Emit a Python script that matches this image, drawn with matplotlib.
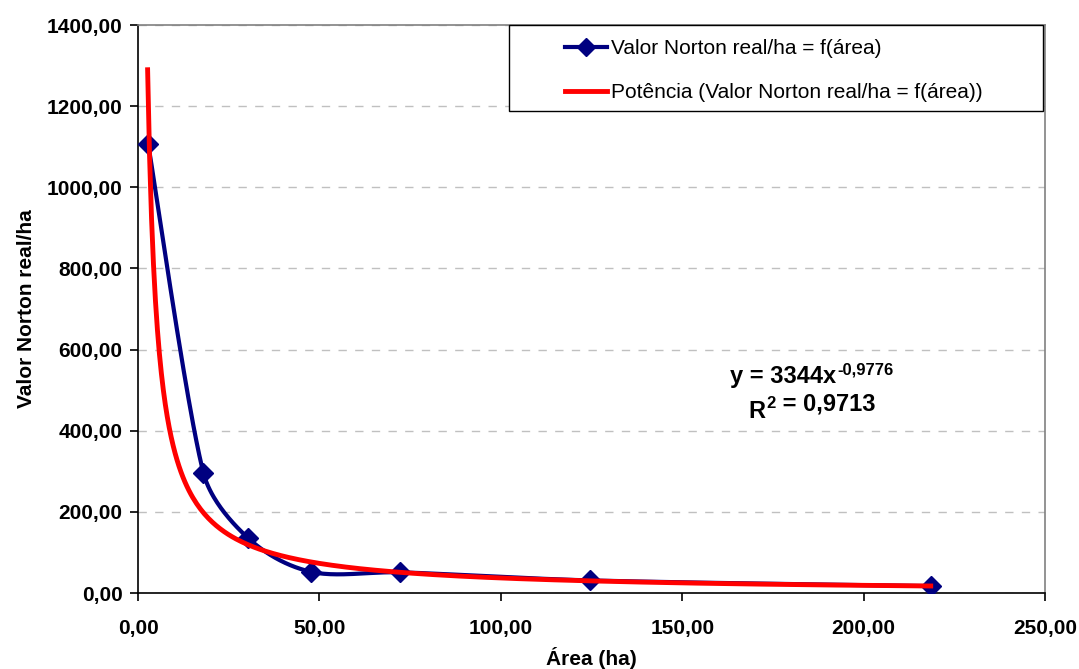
import numpy as np
import matplotlib.pyplot as plt
from matplotlib.lines import Line2D
from matplotlib.patches import Rectangle

plt.rcParams['font.family'] = ['Liberation Sans', 'DejaVu Sans']

# data
area = [2.8, 18.0, 30.4, 47.8, 72.3, 124.6, 218.5]
valor = [1107, 297, 135, 52, 51, 31, 17]

# trendline coefficients as printed on the chart
coef_a = 3344
coef_b = -0.9776
r2_txt = '0,9713'
x_fit_start = 2.65


def smooth(xs, ys, xr, yr, n=40):
    # excel-like smoothed line: bezier, handles = 1/6 of neighbour vector,
    # clamped to a third of the segment so short segments don't overshoot
    pts = np.column_stack([np.array(xs) / xr, np.array(ys) / yr])
    m = len(pts)
    out_x, out_y = [], []
    for i in range(m - 1):
        p0 = pts[max(i - 1, 0)]
        p1, p2 = pts[i], pts[i + 1]
        p3 = pts[min(i + 2, m - 1)]
        seg = np.hypot(*(p2 - p1))
        h1 = (p2 - p0) / 6
        h2 = (p3 - p1) / 6
        for h in (h1, h2):
            ln = np.hypot(*h)
            if ln > seg / 3:
                h *= seg / 3 / ln
        c1 = p1 + h1
        c2 = p2 - h2
        t = np.linspace(0, 1, n)[:, None]
        b = (1-t)**3*p1 + 3*(1-t)**2*t*c1 + 3*(1-t)*t**2*c2 + t**3*p2
        out_x.extend(b[:, 0] * xr)
        out_y.extend(b[:, 1] * yr)
    return out_x, out_y


fig = plt.figure(figsize=(10.79, 6.69), dpi=100)
ax = fig.add_axes([0.1279, 0.1136, 0.8406, 0.849])

blue = '#000080'
# axes is 907 x 568 px, smooth in pixel space
sx, sy = smooth(area, valor, 250 / 907, 1400 / 568)
ax.plot(sx, sy, color=blue, lw=3, zorder=3)
ax.plot(area, valor, ls='none', marker='D', ms=10.5, color=blue, zorder=4)

xf = np.linspace(x_fit_start, max(area), 400)
ax.plot(xf, coef_a * xf ** coef_b, color='#ff0000', lw=3.5, zorder=5)

ax.set_xlim(0, 250)
ax.set_ylim(0, 1400)
ax.set_xticks(np.arange(0, 251, 50))
ax.set_yticks(np.arange(0, 1401, 200))
fmt = lambda v: ('%.2f' % v).replace('.', ',')
ax.set_xticklabels([fmt(v) for v in np.arange(0, 251, 50)], fontweight='bold', fontsize=15)
ax.set_yticklabels([fmt(v) for v in np.arange(0, 1401, 200)], fontweight='bold', fontsize=15)
ax.tick_params(direction='out', length=6, width=1.2, color='black')
ax.tick_params(axis='x', pad=13)
ax.tick_params(axis='y', pad=5)
ax.yaxis.grid(True, color='#c0c0c0', ls=(0, (6, 6)), lw=1)
ax.set_axisbelow(True)

for s in ['left', 'bottom']:
    ax.spines[s].set_color('black')
    ax.spines[s].set_linewidth(1.2)
for s in ['top', 'right']:
    ax.spines[s].set_color('#808080')
    ax.spines[s].set_linewidth(1.2)

ax.set_xlabel('Área (ha)', fontweight='bold', fontsize=15, labelpad=6)
ax.set_ylabel('Valor Norton real/ha', fontweight='bold', fontsize=15, labelpad=8)

# legend box drawn separately (excel leaves a wide left margin)
ax.add_patch(Rectangle((0.409, 0.8486), 0.5888, 0.1514, transform=ax.transAxes,
                       facecolor='white', edgecolor='black', lw=1.0,
                       clip_on=False, zorder=6))
handles = [
    Line2D([], [], color=blue, lw=3, marker='D', ms=9),
    Line2D([], [], color='#ff0000', lw=3.5),
]
leg = ax.legend(handles, ['Valor Norton real/ha = f(área)',
                          'Potência (Valor Norton real/ha = f(área))'],
                loc='upper left', bbox_to_anchor=(0.4708, 0.9754),
                fontsize=15, frameon=False, handlelength=2.0,
                handletextpad=0.2, borderpad=0, labelspacing=1.2,
                borderaxespad=0)
leg.set_zorder(7)

t1 = ax.text(163.2, 517.6, 'y = 3344x', fontsize=17, fontweight='bold',
             ha='left', va='baseline')
ax.annotate('-0,9776', xy=(1, 1), xycoords=t1, xytext=(1, 2),
            textcoords='offset points', fontsize=12, fontweight='bold',
            ha='left', va='top')
t2 = ax.text(168.1, 431, 'R', fontsize=17, fontweight='bold',
             ha='left', va='baseline')
t3 = ax.annotate('2', xy=(1, 1), xycoords=t2, xytext=(1, 3),
                 textcoords='offset points', fontsize=12, fontweight='bold',
                 ha='left', va='top')
ax.annotate(' = ' + r2_txt, xy=(1, 0), xycoords=t3, xytext=(0, 0),
            textcoords='offset points', fontsize=17, fontweight='bold',
            ha='left', va='baseline')

fig.savefig('out.png', dpi=100)
